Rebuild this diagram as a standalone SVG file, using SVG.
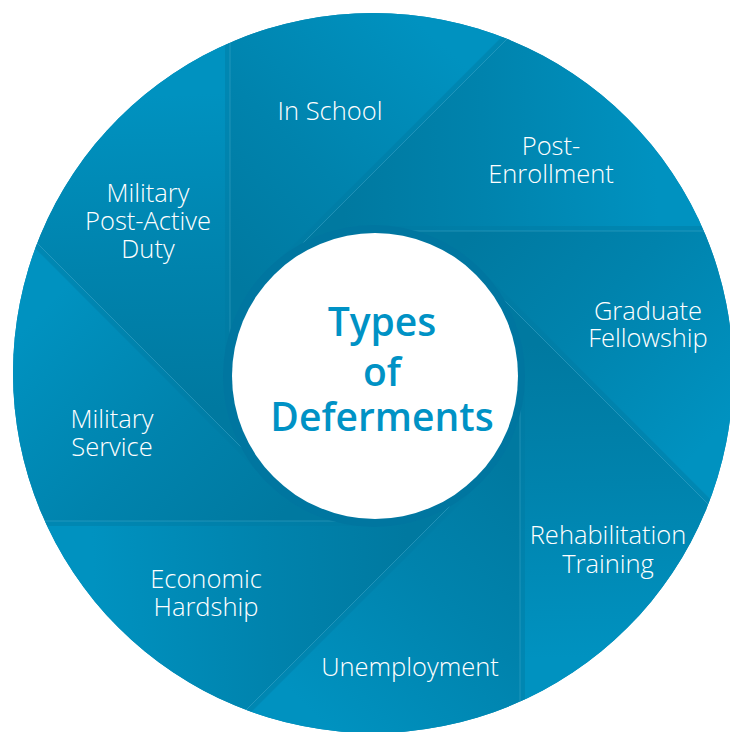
<svg xmlns="http://www.w3.org/2000/svg" xmlns:xlink="http://www.w3.org/1999/xlink" width="730" height="732" viewBox="0 0 730 732">
  <defs>
    <style>
      .lbl { font-family: "Open Sans", "Liberation Sans", sans-serif; font-size: 25.5px; font-weight: 300; fill: #ffffff; text-anchor: middle; }
      .title { font-family: "Open Sans", "Liberation Sans", sans-serif; font-size: 39px; font-weight: 600; fill: #0092c5; text-anchor: middle; }
      .sep { stroke: #5fb8d6; stroke-opacity: 0.35; stroke-width: 1; fill: none; }
      .shade { stroke: #007aa1; stroke-opacity: 0.45; stroke-width: 5; fill: none; }
    </style>
    <clipPath id="outer">
      <circle cx="373" cy="373" r="360"/>
    </clipPath>
    <linearGradient id="bladeGrad" gradientUnits="userSpaceOnUse" x1="255" y1="300" x2="470" y2="70">
      <stop offset="0" stop-color="#0079a0"/>
      <stop offset="0.45" stop-color="#0083ad"/>
      <stop offset="1" stop-color="#0092c0"/>
    </linearGradient>
    <g id="blade">
      <polygon points="230,376 230,-434 979.6,-433.6 272.47,273.47" fill="url(#bladeGrad)"/>
      <line class="shade" x1="270.7" y1="271.7" x2="977.8" y2="-435.4"/>
    </g>
  </defs>

  <circle cx="373" cy="373" r="360" fill="#0088b4"/>

  <g id="blades" clip-path="url(#outer)">
    <g id="in-school"><use xlink:href="#blade"/></g>
    <g id="post-enrollment"><use xlink:href="#blade" transform="rotate(45 375 376)"/></g>
    <g id="graduate-fellowship"><use xlink:href="#blade" transform="rotate(90 375 376)"/></g>
    <g id="rehabilitation-training"><use xlink:href="#blade" transform="rotate(135 375 376)"/></g>
    <g id="unemployment"><use xlink:href="#blade" transform="rotate(180 375 376)"/></g>
    <g id="economic-hardship"><use xlink:href="#blade" transform="rotate(225 375 376)"/></g>
    <g id="military-service"><use xlink:href="#blade" transform="rotate(270 375 376)"/></g>
    <g id="military-post-active-duty"><use xlink:href="#blade" transform="rotate(315 375 376)"/></g>
  </g>

  <g id="connectors" clip-path="url(#outer)">
    <line class="sep" x1="230" y1="376" x2="230" y2="-10"/>
    <line class="sep" x1="272.47" y1="273.47" x2="800" y2="-254"/>
    <line class="sep" x1="375" y1="231" x2="760" y2="231"/>
    <line class="sep" x1="477.5" y1="273.5" x2="900" y2="696"/>
    <line class="sep" x1="520" y1="376" x2="520" y2="760"/>
    <line class="sep" x1="477.5" y1="478.5" x2="100" y2="856"/>
    <line class="sep" x1="375" y1="521" x2="-10" y2="521"/>
    <line class="sep" x1="272.5" y1="478.5" x2="-100" y2="106"/>
  </g>

  <g id="labels">
    <text class="lbl" x="330" y="120">In School</text>
    <text class="lbl" x="551" y="155">Post-</text>
    <text class="lbl" x="551" y="183">Enrollment</text>
    <text class="lbl" x="648" y="320">Graduate</text>
    <text class="lbl" x="648" y="347">Fellowship</text>
    <text class="lbl" x="608" y="544">Rehabilitation</text>
    <text class="lbl" x="608" y="573">Training</text>
    <text class="lbl" x="410" y="676">Unemployment</text>
    <text class="lbl" x="206" y="588">Economic</text>
    <text class="lbl" x="206" y="616">Hardship</text>
    <text class="lbl" x="112" y="428">Military</text>
    <text class="lbl" x="112" y="456">Service</text>
    <text class="lbl" x="148" y="202">Military</text>
    <text class="lbl" x="148" y="230">Post-Active</text>
    <text class="lbl" x="148" y="258">Duty</text>
  </g>

  <g id="center">
    <circle cx="374" cy="376" r="151" fill="#0076a0"/>
    <circle cx="375" cy="376" r="143" fill="#ffffff"/>
    <text class="title" x="382" y="336">Types</text>
    <text class="title" x="382" y="386">of</text>
    <text class="title" x="382" y="431">Deferments</text>
  </g>
</svg>
